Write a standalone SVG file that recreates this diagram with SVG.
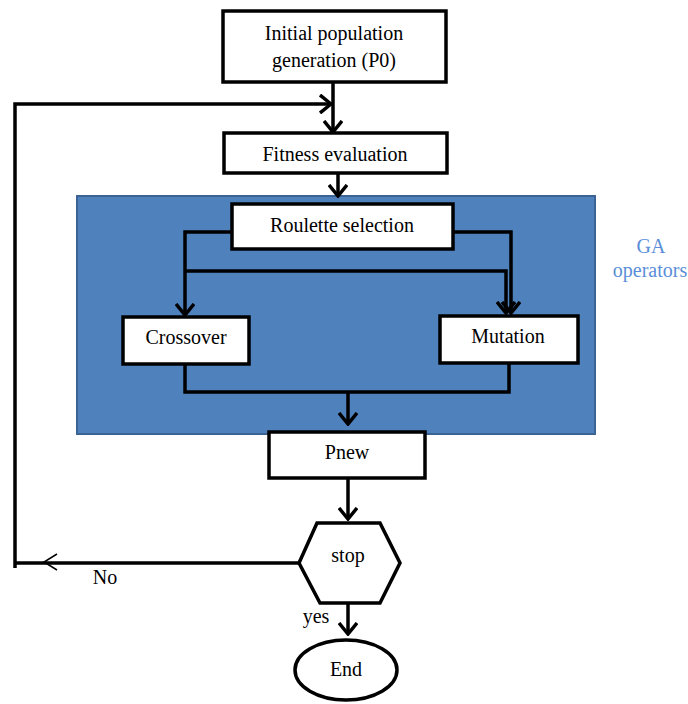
<svg xmlns="http://www.w3.org/2000/svg" width="688" height="704" viewBox="0 0 688 704">
<style>
.box{fill:#fff;stroke:#000;stroke-width:3.5}
.t{font-family:'Liberation Serif','DejaVu Serif',serif;font-size:20px;fill:#000;text-anchor:middle}
.ln{fill:none;stroke:#000;stroke-width:3.5;stroke-linejoin:miter}
.lbl{font-family:'Liberation Serif','DejaVu Serif',serif;font-size:20px;fill:#5a8ed8;text-anchor:middle}
</style>
<defs>
<marker id="ah" viewBox="0 0 14 20" refX="12" refY="10" markerWidth="14" markerHeight="20" markerUnits="userSpaceOnUse" orient="auto">
<path d="M1,1 L12,10 L1,19" fill="none" stroke="#000" stroke-width="3.5"/>
</marker>
</defs>
<rect width="688" height="704" fill="#fff"/>
<g id="ga-operators">
<rect x="77" y="196" width="518" height="238" fill="#4f81bd" stroke="#3b6494" stroke-width="2"/>
<text class="lbl" x="651" y="253">GA</text>
<text class="lbl" x="650" y="277">operators</text>
</g>
<g id="connectors">
<path class="ln" d="M333,82 V132" marker-end="url(#ah)"/>
<path class="ln" d="M15,568 V104 H331" marker-end="url(#ah)"/>
<path class="ln" d="M338,168 V196" marker-end="url(#ah)"/>
<path class="ln" d="M232,232 H185 V315" marker-end="url(#ah)"/>
<path class="ln" d="M453,232 H511 V313" marker-end="url(#ah)"/>
<path class="ln" d="M185,271 H506 V313" marker-end="url(#ah)"/>
<path class="ln" d="M185,364 V392 H509 V363"/>
<path class="ln" d="M348,392 V424" marker-end="url(#ah)"/>
<path class="ln" d="M348,478 V519" marker-end="url(#ah)"/>
<path class="ln" d="M299,563 H15"/>
<polyline points="57,554 44,562 57,570" fill="none" stroke="#000" stroke-width="1.5"/>
<path class="ln" d="M348,603 V634" marker-end="url(#ah)"/>
<text class="t" x="105" y="584">No</text>
<text class="t" x="316" y="623">yes</text>
</g>
<g id="initial">
<rect class="box" x="223" y="11" width="223" height="71"/>
<text class="t" x="334" y="40">Initial population</text>
<text class="t" x="334" y="67">generation (P0)</text>
</g>
<g id="fitness">
<rect class="box" x="224" y="133" width="223" height="40"/>
<text class="t" x="335" y="161">Fitness evaluation</text>
</g>
<g id="roulette">
<rect class="box" x="232" y="204" width="221" height="45"/>
<text class="t" x="342" y="232">Roulette selection</text>
</g>
<g id="crossover">
<rect class="box" x="123" y="317" width="126" height="47"/>
<text class="t" x="186" y="344">Crossover</text>
</g>
<g id="mutation">
<rect class="box" x="440" y="316" width="138" height="47"/>
<text class="t" x="508" y="343">Mutation</text>
</g>
<g id="pnew">
<rect class="box" x="269" y="432" width="156" height="46"/>
<text class="t" x="347" y="459">Pnew</text>
</g>
<g id="stop">
<polygon class="box" points="299,563 317,523 380,523 400,563 380,603 320,603"/>
<text class="t" x="348" y="562">stop</text>
</g>
<g id="end">
<ellipse class="box" cx="346" cy="670" rx="51" ry="30"/>
<text class="t" x="346" y="676">End</text>
</g>
</svg>
